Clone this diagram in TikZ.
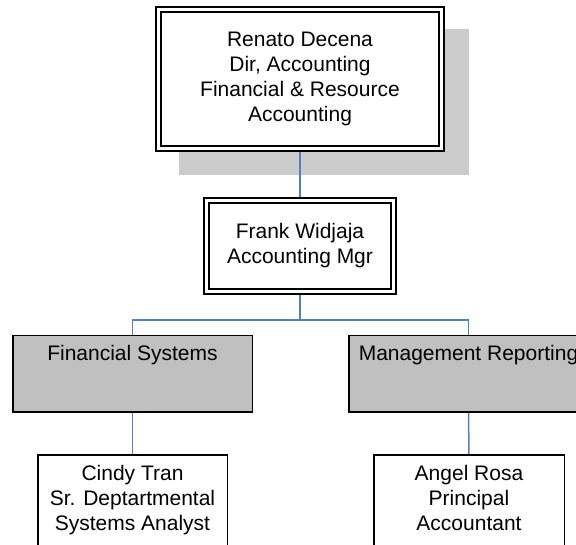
\documentclass[tikz,border=0pt]{standalone}
\usepackage{fontspec}
\setmainfont{Liberation Sans}
\usetikzlibrary{backgrounds,calc}
\definecolor{conn}{RGB}{79,129,200}
\definecolor{shadowgray}{RGB}{204,204,204}
\definecolor{unitfill}{RGB}{192,192,192}
\begin{document}
\begin{tikzpicture}[x=1pt,y=-1pt,
  txt/.style={font=\fontsize{21pt}{25pt}\selectfont, align=center, inner sep=0pt, outer sep=0pt},
  dbox/.style={txt, draw=black, fill=white, line width=1.6pt, double=white, double distance=3.8pt},
  unitbox/.style={txt, draw=black, fill=unitfill, line width=1.5pt},
  personbox/.style={txt, draw=black, fill=white, line width=1.5pt},
  link/.style={draw=conn, line width=1.5pt}]
\useasboundingbox (0,0) rectangle (576,545);
\clip (0,0) rectangle (576,545);

\node[dbox, minimum width=283pt, minimum height=139pt] (top) at (300,79)
  {Renato Decena\\Dir, Accounting\\Financial \& Resource\\Accounting};
\node[dbox, minimum width=187pt, minimum height=91pt] (frank) at (300,246)
  {Frank Widjaja\\Accounting Mgr};

\node[unitbox, minimum width=239.5pt, text height=25pt, text depth=51.5pt] (fs) at (132.5,374)
  {Financial Systems};
\node[unitbox, minimum width=239.5pt, text height=25pt, text depth=51.5pt] (mr) at (468.5,374)
  {Management Reporting};

\node[personbox, anchor=north, minimum width=189.5pt, text height=25.25pt, text depth=100pt] (cindy) at (132.5,454.75)
  {\parbox[t]{185pt}{\centering Cindy Tran\\Sr. Deptartmental\\Systems Analyst}};
\node[personbox, anchor=north, minimum width=190.5pt, text height=25.25pt, text depth=100pt] (angel) at (469,454.75)
  {\parbox[t]{185pt}{\centering Angel Rosa\\Principal\\Accountant}};

\coordinate (bus) at (300,320);

\begin{scope}[on background layer]
  \fill[shadowgray] ($(top.north west)+(20.4,19.4)$) rectangle ($(top.south east)+(27.6,26.6)$);
  \draw[link] (top.south) -- (frank.north);
  \draw[link] (frank.south) -- (bus);
  \draw[link] (fs.north) |- (bus);
  \draw[link] (bus) -| (mr.north);
  \draw[link] (fs.south) -- (cindy.north);
  \draw[link] (mr.south) -- (angel.north);
\end{scope}
\end{tikzpicture}
\end{document}
